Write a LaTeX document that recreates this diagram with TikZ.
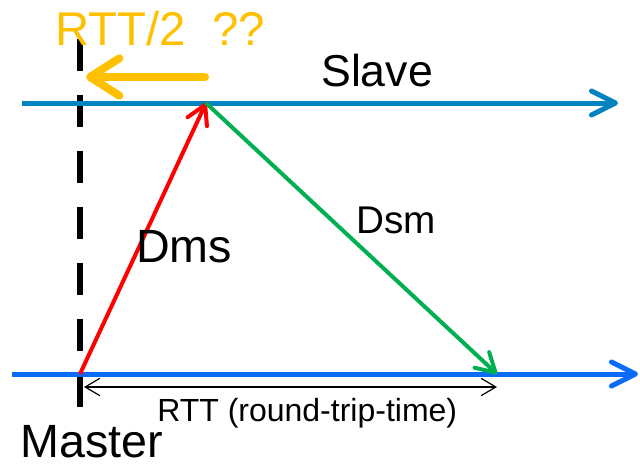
\documentclass[tikz,border=0pt]{standalone}
\usepackage{fontspec}
\setmainfont{Liberation Sans}
\usetikzlibrary{arrows.meta}
\definecolor{slblue}{HTML}{0083BE}
\definecolor{msblue}{HTML}{0A6CF5}
\definecolor{dmsred}{HTML}{FF0000}
\definecolor{dsmgreen}{HTML}{00B050}
\definecolor{rttorange}{HTML}{FFC000}
\tikzset{
  tline/.style = {line width=3.75pt, -{Straight Barb[length=18pt,width=18pt,round]}},
  msg/.style   = {line width=3pt, -{Straight Barb[length=14pt,width=16pt,round]}},
  dimline/.style = {line width=0.9pt,
                 {Straight Barb[length=11pt,width=13pt]}-{Straight Barb[length=11pt,width=13pt]}},
  lbl/.style   = {inner sep=0pt, anchor=base west},
}
\newcommand{\fs}[1]{\fontsize{#1}{#1}\selectfont}

\begin{document}
\begin{tikzpicture}[x=0.75pt,y=-0.75pt]
  \useasboundingbox (0,0) rectangle (640,465);
  % time lines
  \coordinate (sl0) at (22,103);  \coordinate (sl1) at (618,103);
  \coordinate (ms0) at (12,374);  \coordinate (ms1) at (638,374);
  \coordinate (mt) at (80,374);   \coordinate (st) at (206,103);
  \coordinate (rt) at (497,374);
  \coordinate (vt) at (80,39);    \coordinate (vb) at (80,407);
  \coordinate (or0) at (205,77);  \coordinate (or1) at (86,77);
  \coordinate (d0) at (84,387);   \coordinate (d1) at (497,387);
  \draw[line width=4.5pt, dash pattern=on 24pt off 18pt] (vt) -- (vb);
  \draw[tline, draw=slblue] (sl0) -- (sl1);
  \draw[tline, draw=msblue] (ms0) -- (ms1);
  \draw[msg, draw=dmsred] (mt) -- (st);
  \draw[msg, draw=dsmgreen] (st) -- (rt);
  \draw[dimline] (d0) -- (d1);
  \draw[line width=6pt, draw=rttorange, line cap=round,
        -{Straight Barb[length=22pt,width=28pt,round]}] (or0) -- (or1);
  % labels
  \node[lbl, text=rttorange] (half) at (55,45) {\fs{35.5}RTT/2\ \ ??};
  \node[lbl] (slave) at (321,86) {\fs{33.5}Slave};
  \node[lbl] (dms) at (136,262) {\fs{35}Dms};
  \node[lbl] (dsm) at (356,233) {\fs{29}Dsm};
  \node[lbl] (rtt) at (157,421) {\fs{24}RTT (round-trip-time)};
  \node[lbl] (master) at (20,457) {\fs{35}Master};
\end{tikzpicture}
\end{document}
